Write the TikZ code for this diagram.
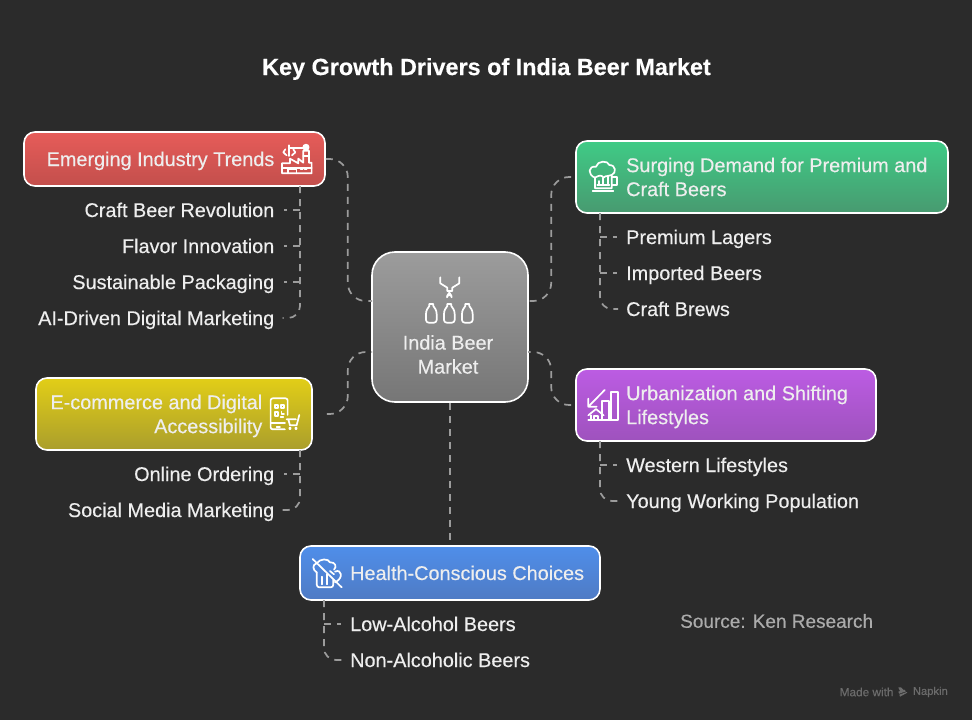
\documentclass[tikz,border=0pt]{standalone}
\usepackage{fontspec}
\setmainfont{Liberation Sans}[RawFeature={embolden=0.35}]
\definecolor{bg}{HTML}{2B2B2B}
\definecolor{lbl}{HTML}{EEEEEE}
\definecolor{dashc}{HTML}{9C9C9C}
\definecolor{srcc}{HTML}{ABABAB}
\definecolor{markc}{HTML}{6C6C6C}
\tikzset{
  boxbase/.style={draw=white,line width=1.6pt,rounded corners=11pt,inner sep=0pt},
  redbox/.style={boxbase,top color=red1,bottom color=red2,minimum width=301pt,minimum height=54pt},
  greenbox/.style={boxbase,top color=green1,bottom color=green2,minimum width=372pt,minimum height=72pt},
  yellowbox/.style={boxbase,top color=yel1,bottom color=yel2,minimum width=276pt,minimum height=72pt},
  purplebox/.style={boxbase,top color=pur1,bottom color=pur2,minimum width=300pt,minimum height=72pt},
  bluebox/.style={boxbase,top color=blu1,bottom color=blu2,minimum width=300pt,minimum height=54pt},
  hubbox/.style={boxbase,rounded corners=23pt,top color=gry1,bottom color=gry2,minimum width=156pt,minimum height=150pt},
  lab/.style={text=lbl,font=\fontsize{19.85}{24}\selectfont,inner sep=0pt,text height=17pt,text depth=3pt},
  boxtxt/.style={text=lbl,font=\fontsize{19.85}{24}\selectfont,inner sep=0pt},
  conn/.style={draw=dashc,line width=1.7pt,dash pattern=on 7pt off 6pt,rounded corners=18pt},
  sub/.style={draw=dashc,line width=1.7pt,dash pattern=on 7pt off 6pt,rounded corners=12pt},
  icon/.style={draw=white,line width=1.7pt,line join=round,line cap=round},
}
\definecolor{red1}{HTML}{E65C59}\definecolor{red2}{HTML}{C34F4C}
\definecolor{green1}{HTML}{3FCB86}\definecolor{green2}{HTML}{489A70}
\definecolor{yel1}{HTML}{E2CE17}\definecolor{yel2}{HTML}{AA9E2C}
\definecolor{pur1}{HTML}{BC5CE3}\definecolor{pur2}{HTML}{9E52BD}
\definecolor{blu1}{HTML}{4F8EEA}\definecolor{blu2}{HTML}{4F7BC4}
\definecolor{gry1}{HTML}{9C9C9C}\definecolor{gry2}{HTML}{767676}
\begin{document}
\begin{tikzpicture}[x=1pt,y=-1pt]
\fill[bg] (0,0) rectangle (972,720);
\useasboundingbox (0,0) rectangle (972,720);

\node[text=white,font=\bfseries\fontsize{23.4}{28}\selectfont,inner sep=0pt] (title) at (486.5,69) {Key Growth Drivers of India Beer Market};

% boxes
\node[redbox] (e1) at (174.5,159) {};
\node[greenbox] (g1) at (762,177) {};
\node[yellowbox] (y1) at (174,414) {};
\node[purplebox] (p1) at (726,405) {};
\node[bluebox] (b1) at (450,573) {};
\node[hubbox] (c) at (450,327) {};

% box texts
\node[lab,anchor=east] (e1t) at (274.5,159) {Emerging Industry Trends};
\node[boxtxt,anchor=west,align=left] (g1t) at (626,177) {Surging Demand for Premium and\\Craft Beers};
\node[boxtxt,anchor=east,align=right] (y1t) at (262.5,416) {E-commerce and Digital\\Accessibility};
\node[boxtxt,anchor=west,align=left] (p1t) at (626,407) {Urbanization and Shifting\\Lifestyles};
\node[lab,anchor=west] (b1t) at (350,573) {Health-Conscious Choices};
\node[boxtxt,align=center] (ct) at (448,354.5) {India Beer\\Market};

% labels
\node[lab,anchor=east] (e2) at (274.5,210) {Craft Beer Revolution};
\node[lab,anchor=east] (e3) at (274.5,246) {Flavor Innovation};
\node[lab,anchor=east] (e4) at (274.5,282) {Sustainable Packaging};
\node[lab,anchor=east] (e5) at (274.5,318) {AI-Driven Digital Marketing};
\node[lab,anchor=east] (y2) at (274.5,474) {Online Ordering};
\node[lab,anchor=east] (y3) at (274.5,510) {Social Media Marketing};
\node[lab,anchor=west] (g2) at (626,237) {Premium Lagers};
\node[lab,anchor=west] (g3) at (626,273) {Imported Beers};
\node[lab,anchor=west] (g4) at (626,309) {Craft Brews};
\node[lab,anchor=west] (p2) at (626,465) {Western Lifestyles};
\node[lab,anchor=west] (p3) at (626,501) {Young Working Population};
\node[lab,anchor=west] (b2) at (350,624) {Low-Alcohol Beers};
\node[lab,anchor=west] (b3) at (350,660) {Non-Alcoholic Beers};
\node[text=srcc,font=\fontsize{19}{24}\selectfont,inner sep=0pt,anchor=west] (src) at (680,621) {Source: Ken Research};
\node[text=markc,font=\fontsize{11.8}{13}\selectfont,inner sep=0pt,anchor=west] (mw) at (839.5,692) {Made with};
\node[text=markc,font=\fontsize{11.2}{13}\selectfont,inner sep=0pt,anchor=east] (nk) at (948,692) {Napkin};

% anchors
\coordinate (cw1) at (372,301);\coordinate (cw2) at (372,352);
\coordinate (ce1) at (528,301);\coordinate (ce2) at (528,352);
\coordinate (et) at (300,186);\coordinate (yt) at (300,450);
\coordinate (gt) at (600,213);\coordinate (pt) at (600,441);\coordinate (bt) at (324,600);

% hub connectors
\draw[conn] (e1.east) -- ++(22,0) |- (cw1);
\draw[conn,shorten <=4pt] (g1.west) -- ++(-24,0) |- (ce1);
\draw[conn,shorten <=14pt] (y1.east) -- ++(35,0) |- (cw2);
\draw[conn,shorten <=4pt] (p1.west) -- ++(-24,0) |- (ce2);
\draw[conn] (c.south) -- (b1.north);

% branch connectors
\draw[sub,shorten >=8pt] (et) |- (e5.east);
\foreach \n in {e2,e3,e4} \draw[sub,shorten >=9pt] (\n.east -| et) -- (\n.east);
\draw[sub,shorten >=8pt] (yt) |- (y3.east);
\draw[sub,shorten >=9pt] (y2.east -| yt) -- (y2.east);
\draw[sub,shorten >=8pt] (gt) |- (g4.west);
\foreach \n in {g2,g3} \draw[sub,shorten >=9pt] (\n.west -| gt) -- (\n.west);
\draw[sub,shorten >=8pt] (pt) |- (p3.west);
\draw[sub,shorten >=9pt] (p2.west -| pt) -- (p2.west);
\draw[sub,shorten >=8pt] (bt) |- (b3.west);
\draw[sub,shorten >=9pt] (b2.west -| bt) -- (b2.west);

% factory icon
\begin{scope}[shift={(10,120)},scale=0.3333]
\draw[icon] (816,160) -- (905,160) -- (905,128) -- (897,128) -- (897,92) -- (880,92) -- (880,128) -- (865,116) -- (865,130) -- (840,116) -- (840,130) -- (816,130) -- cycle;
\draw[icon] (816,143) -- (905,143);
\draw[icon] (835,160) -- (835,147) -- (860,147) -- (860,160);
\draw[icon] (872,147) -- (878,147) (884,147) -- (890,147);
\draw[icon] (838,85) -- (880,85) (880,107) -- (897,107);
\draw[icon,fill=white] (888,82) circle (8);
\draw[icon] (838,76) -- (838,108);
\draw[icon] (826,88) -- (820,97) -- (830,106) (850,88) -- (856,97) -- (846,106);
\end{scope}

% mug icon
\begin{scope}[shift={(540,135)},scale=0.3333]
\draw[icon] (165,128) .. controls (143,120) and (143,92) .. (168,95) .. controls (172,76) and (205,76) .. (208,90) .. controls (228,90) and (230,114) .. (215,120) -- (215,160) -- (165,160) -- cycle;
\draw[icon] (165,128) .. controls (175,122) and (185,118) .. (190,128) .. controls (198,120) and (208,125) .. (215,120);
\draw[icon] (215,127) -- (230,127) -- (230,150) -- (215,150);
\draw[icon] (158,169) -- (220,169);
\draw[icon] (178,148) -- (178,138) (190,148) -- (190,130) (203,148) -- (203,124);
\draw[icon] (172,150) -- (208,150);
\end{scope}

% hub icon
\begin{scope}[shift={(360,240)},scale=0.3333]
\draw[icon] (241,112) -- (241,130) -- (262,143) -- (262,153) -- (277,153) -- (277,143) -- (298,130) -- (298,112);
\draw[icon] (268,158) .. controls (262,166) and (260,170) .. (261,172) arc[start angle=180,end angle=360,radius=7] .. controls (276,170) and (274,166) .. (268,158);
\foreach \cx in {214,268,322}
  \draw[icon] (\cx-6,192) -- (\cx-6,198) .. controls (\cx-10,204) and (\cx-16,210) .. (\cx-16,222) -- (\cx-16,240) .. controls (\cx-16,245) and (\cx-12,248) .. (\cx-8,248) -- (\cx+8,248) .. controls (\cx+12,248) and (\cx+16,245) .. (\cx+16,240) -- (\cx+16,222) .. controls (\cx+16,210) and (\cx+10,204) .. (\cx+6,198) -- (\cx+6,192) -- cycle;
\end{scope}

% phone and cart icon
\begin{scope}[shift={(20,370)},scale=0.3333]
\draw[icon,rounded corners=2pt] (803,135) -- (803,85) -- (752,85) -- (752,178) -- (795,178);
\draw[icon] (752,160) -- (795,160) (770,170) -- (780,170);
\draw[icon] (765,105) rectangle (775,115) (783,105) rectangle (792,115) (765,125) rectangle (775,137);
\draw[icon] (785,125) -- (785,132) -- (792,132) (782,140) -- (790,140);
\draw[icon] (800,148) -- (828,148) (838,135) -- (830,166) -- (810,166) -- (805,148);
\draw[icon] (810,175) circle (2.5) (828,175) circle (2.5);
\end{scope}

% urban icon
\begin{scope}[shift={(520,340)},scale=0.3333]
\draw[icon] (205,240) -- (295,240) -- (295,155) -- (273,155) -- (273,240);
\draw[icon] (245,240) -- (245,182) -- (266,182) -- (266,240);
\draw[icon] (254,150) -- (205,200) (205,176) -- (205,200) -- (230,200);
\draw[icon] (205,226) -- (228,207) -- (251,226);
\draw[icon] (212,226) -- (212,240) (245,226) -- (245,240);
\draw[icon] (222,240) -- (222,228) -- (235,228) -- (235,240);
\end{scope}

% no-beer icon
\begin{scope}[shift={(290,535)},scale=0.3333]
\draw[icon] (68,72) -- (155,157);
\draw[icon] (80,112) -- (80,148) .. controls (80,154) and (84,157) .. (88,157) -- (122,157) .. controls (127,157) and (130,154) .. (130,148) -- (130,135);
\draw[icon] (80,112) .. controls (68,105) and (66,88) .. (80,85) .. controls (90,70) and (115,70) .. (120,82) .. controls (135,80) and (142,95) .. (132,104);
\draw[icon] (97,125) -- (97,148) (112,117) -- (112,148);
\draw[icon] (135,110) .. controls (155,100) and (162,130) .. (135,142);
\draw[icon] (120,108) -- (132,118);
\end{scope}

% napkin logo
\begin{scope}[shift={(820,675)},scale=0.3333]
\fill[markc] (235,37) -- (243,37) -- (250,44) -- (240,48) -- cycle (235,50) -- (253,44) -- (258,49) -- (238,56) -- cycle (238,59) -- (260,51) -- (262,53) -- (240,65) -- cycle;
\end{scope}
\end{tikzpicture}
\end{document}
